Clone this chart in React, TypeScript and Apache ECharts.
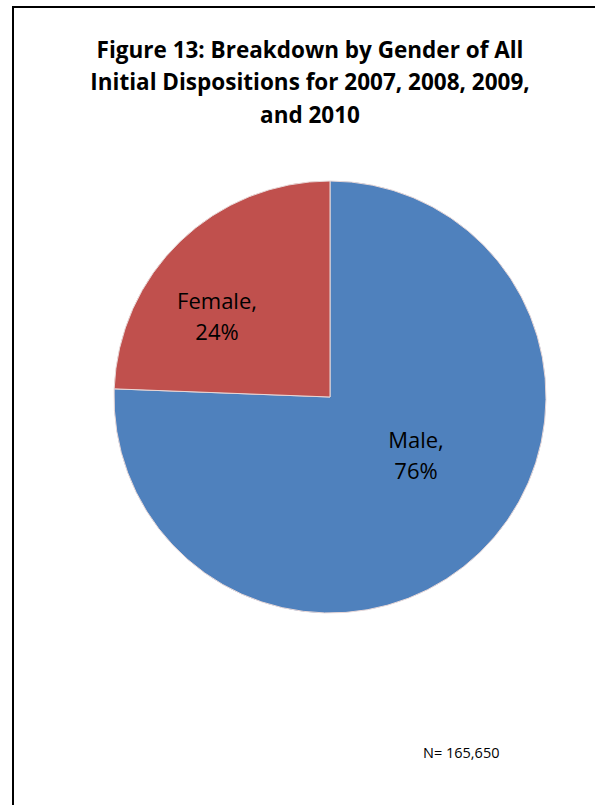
import React, { useEffect, useRef } from "react";
import * as echarts from "echarts";

const titleLines = [
  "Figure 13: Breakdown by Gender of All",
  "Initial Dispositions for 2007, 2008, 2009,",
  "and 2010",
];
const categories = ["Male", "Female"];
const shares = [75.6, 24.4];
const colors = ["#4F81BD", "#C0504D"];
const footnote = "N= 165,650";

export default function App() {
  const ref = useRef<HTMLDivElement>(null);
  useEffect(() => {
    document.body.style.margin = "0";
    const chart = echarts.init(ref.current!, null, { renderer: "svg" });
    const offsets = [
      [9, -22],
      [-36, -2],
    ];
    chart.setOption({
      animation: false,
      backgroundColor: "#fff",
      title: {
        text: titleLines.join("\n"),
        left: 305,
        top: 28,
        textAlign: "center",
        textStyle: {
          fontFamily: "Open Sans",
          fontWeight: "bold",
          fontSize: 22.5,
          lineHeight: 32.5,
          color: "#000",
        },
      },
      graphic: [
        {
          type: "rect",
          shape: { x: 13, y: 7, width: 620, height: 840 },
          style: { fill: "none", stroke: "#000", lineWidth: 2 },
          silent: true,
        },
        {
          type: "text",
          x: 423,
          y: 752,
          style: {
            text: footnote,
            fontFamily: "Open Sans",
            fontSize: 14.5,
            fill: "#000",
            verticalAlign: "middle",
          },
        },
      ],
      series: [
        {
          type: "pie",
          center: [330, 397],
          radius: [0, 216],
          startAngle: 90,
          clockwise: true,
          data: categories.map((c, i) => ({
            name: c,
            value: shares[i],
            itemStyle: { color: colors[i] },
            label: { offset: offsets[i] },
          })),
          itemStyle: { borderColor: "#e8d8d8", borderWidth: 1 },
          label: {
            show: true,
            position: "inside",
            formatter: (p: any) => `${p.name},\n${Math.round(p.percent)}%`,
            fontFamily: "Open Sans",
            fontSize: 22,
            lineHeight: 31,
            color: "#000",
            align: "center",
          },
          labelLine: { show: false },
          emphasis: { disabled: true },
        },
      ],
    });
    return () => chart.dispose();
  }, []);
  return <div ref={ref} style={{ width: 595, height: 805 }} />;
}
